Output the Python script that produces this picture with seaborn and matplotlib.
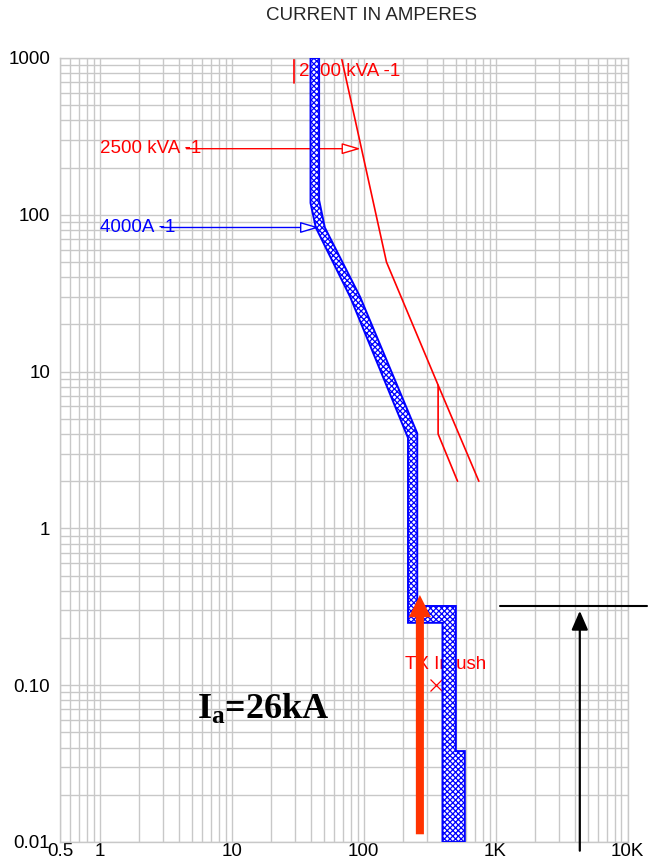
import numpy as np
import pandas as pd
import matplotlib
matplotlib.use("Agg")
import matplotlib.pyplot as plt
import seaborn as sns
from matplotlib.ticker import LogLocator, NullFormatter

sns.set_style("whitegrid")
plt.rcParams["font.family"] = ["Liberation Sans", "DejaVu Sans"]
plt.rcParams["hatch.linewidth"] = 0.9
plt.rcParams["mathtext.fontset"] = "custom"
plt.rcParams["mathtext.rm"] = "Liberation Serif"
plt.rcParams["mathtext.bf"] = "Liberation Serif:bold"

# ---- axes ticks ----
x_ticks = [0.5, 1, 10, 100, 1000, 10000]
x_tick_labels = ["0.5", "1", "10", "100", "1K", "10K"]
y_ticks = [0.01, 0.1, 1, 10, 100, 1000]
y_tick_labels = ["0.01", "0.10", "1", "10", "100", "1000"]

# ---- 4000A breaker trip band (amps, seconds) ----
brk_min_amps = [39.6, 39.6, 43.4, 79, 217, 217, 396, 396]
brk_min_secs = [1000, 119, 83, 30, 3.78, 0.25, 0.25, 0.01]
brk_max_amps = [46.0, 46.0, 50.8, 94, 255, 255, 500, 500, 585, 585]
brk_max_secs = [1000, 124, 83, 30, 4.04, 0.32, 0.32, 0.038, 0.038, 0.01]

# ---- 2500 kVA transformer damage curve ----
xfmr_amps = [68, 149, 367, 747]
xfmr_secs = [1000, 50, 8.2, 2]
xfmr_branch_amps = [367, 367, 515]
xfmr_branch_secs = [8.2, 4.0, 2]
xfmr_fla_amps = [29.7, 29.7]
xfmr_fla_secs = [1000, 695]
inrush_amps = 353
inrush_secs = 0.1

# ---- label arrows ----
xfmr_label_secs = 264
xfmr_arrow_start = 4.54
xfmr_arrow_tip = 95
brk_label_secs = 83
brk_arrow_start = 2.94
brk_arrow_tip = 46

# ---- arc / fault current markers ----
arc_amps = 267
arc_secs = [0.0112, 0.376]
fault_amps = 4350
fault_secs = [0.0088, 0.298]
clear_amps = [1078, 14000]
clear_secs = [0.32, 0.32]

RED = "#FF0000"
BLUE = "#0000FF"
GRID = "#C8C8C8"
FS = 13.5

fig = plt.figure(figsize=(6.48, 8.67), dpi=100)
ax = fig.add_axes([60 / 648, 1 - 842 / 867, (627.5 - 60) / 648, (842 - 58) / 867])
ax.set_xscale("log")
ax.set_yscale("log")
ax.set_xlim(0.5, 10000)
ax.set_ylim(0.01, 1000)

ax.set_xticks(x_ticks, x_tick_labels)
ax.set_yticks(y_ticks, y_tick_labels)
ax.xaxis.set_minor_locator(LogLocator(base=10, subs=np.arange(2, 10), numticks=30))
ax.yaxis.set_minor_locator(LogLocator(base=10, subs=np.arange(2, 10), numticks=30))
ax.xaxis.set_minor_formatter(NullFormatter())
ax.yaxis.set_minor_formatter(NullFormatter())
ax.grid(True, which="both", color=GRID, lw=1.0)
ax.set_axisbelow(True)
ax.tick_params(which="both", length=0, labelsize=FS, colors="black")
ax.tick_params(axis="x", pad=1)
ax.tick_params(axis="y", pad=7)
for s in ax.spines.values():
    s.set_color(GRID)
    s.set_linewidth(1.0)

# transformer damage curve
curve = pd.DataFrame({"amps": xfmr_amps, "secs": xfmr_secs})
branch = pd.DataFrame({"amps": xfmr_branch_amps, "secs": xfmr_branch_secs})
fla = pd.DataFrame({"amps": xfmr_fla_amps, "secs": xfmr_fla_secs})
for df in (curve, branch, fla):
    sns.lineplot(data=df, x="amps", y="secs", sort=False, estimator=None,
                 color=RED, lw=1.2, ax=ax, zorder=2)

ax.plot(inrush_amps, inrush_secs, marker="x", ms=9, mew=0.9, color=RED,
        ls="none", zorder=2)
ax.text(205, 0.1346, "TX Inrush", color=RED, fontsize=FS, ha="left",
        va="center", zorder=2)

# breaker band
poly_x = brk_min_amps + brk_max_amps[::-1]
poly_y = brk_min_secs + brk_max_secs[::-1]
ax.fill(poly_x, poly_y, facecolor="white", edgecolor=BLUE, hatch="xxxxxx",
        lw=1.4, zorder=3)

# curve labels with pointer arrows
ax.text(1.0, xfmr_label_secs, "2500 kVA -1", color=RED, fontsize=FS,
        ha="left", va="center", zorder=2)
ax.annotate("", xy=(xfmr_arrow_tip, xfmr_label_secs),
            xytext=(xfmr_arrow_start, xfmr_label_secs),
            arrowprops=dict(arrowstyle="-|>,head_length=1.15,head_width=0.34",
                            mutation_scale=10, color=RED, fc="white", lw=1.0,
                            shrinkA=0, shrinkB=0), zorder=2)
ax.text(1.0, brk_label_secs, "4000A -1", color=BLUE, fontsize=FS,
        ha="left", va="center", zorder=2)
ax.annotate("", xy=(brk_arrow_tip, brk_label_secs),
            xytext=(brk_arrow_start, brk_label_secs),
            arrowprops=dict(arrowstyle="-|>,head_length=1.15,head_width=0.34",
                            mutation_scale=10, color=BLUE, fc="white", lw=1.0,
                            shrinkA=0, shrinkB=0), zorder=4)
ax.text(32.4, 819, "2500 kVA -1", color=RED, fontsize=FS, ha="left",
        va="center", zorder=2)

# arcing current arrow
ax.annotate("", xy=(arc_amps, arc_secs[1]), xytext=(arc_amps, arc_secs[0]),
            arrowprops=dict(arrowstyle="simple,head_length=1.6,head_width=1.6,tail_width=0.58",
                            mutation_scale=10, fc="#FF3300", ec="#FF3300", lw=0,
                            shrinkA=0, shrinkB=0),
            annotation_clip=False, zorder=5)

# bolted fault arrow and clearing time line
ax.annotate("", xy=(fault_amps, fault_secs[1]), xytext=(fault_amps, fault_secs[0]),
            arrowprops=dict(arrowstyle="-|>,head_length=1.15,head_width=0.5",
                            mutation_scale=10, color="black", lw=1.6,
                            shrinkA=0, shrinkB=0),
            annotation_clip=False, zorder=5)
ax.plot(clear_amps, clear_secs, color="black", lw=1.5, clip_on=False, zorder=5)

ax.text(5.5, 0.0606, r"$\mathbf{I_a}$=26kA", fontsize=26, color="black",
        fontfamily="Liberation Serif", fontweight="bold", ha="left",
        va="baseline", zorder=2)

ax.set_xlabel("")
ax.set_ylabel("")
fig.text(372 / 648, 1 - 15 / 867, "CURRENT IN AMPERES", fontsize=FS,
         ha="center", va="center")

fig.savefig("out.png", dpi=100)
